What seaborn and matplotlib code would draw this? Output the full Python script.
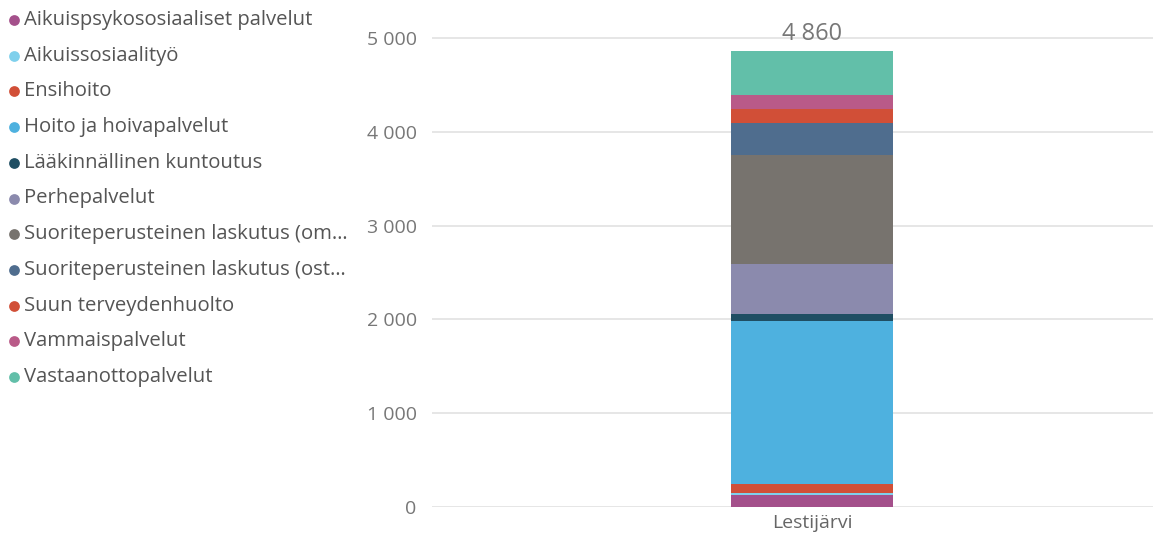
import matplotlib
matplotlib.use("Agg")
import matplotlib.pyplot as plt
import seaborn as sns
import pandas as pd

categories = ["Lestijärvi"]
series = [
    "Aikuispsykososiaaliset palvelut",
    "Aikuissosiaalityö",
    "Ensihoito",
    "Hoito ja hoivapalvelut",
    "Lääkinnällinen kuntoutus",
    "Perhepalvelut",
    "Suoriteperusteinen laskutus (om…",
    "Suoriteperusteinen laskutus (ost…",
    "Suun terveydenhuolto",
    "Vammaispalvelut",
    "Vastaanottopalvelut",
]
values = [125, 28, 96, 1735, 78, 527, 1160, 346, 143, 153, 469]
total_label = "4 860"
colors = ["#A4508B", "#7FD0EC", "#D14F37", "#4EB1DF", "#1F4E63", "#8B8AAD",
          "#77736E", "#4F6D8E", "#D14F37", "#B95A88", "#62BFA9"]
yticks = [0, 1000, 2000, 3000, 4000, 5000]
ytick_labels = ["0", "1 000", "2 000", "3 000", "4 000", "5 000"]

sns.set_theme(style="white")
plt.rcParams["font.family"] = ["Open Sans", "DejaVu Sans"]

W, H = 1153, 538
fig = plt.figure(figsize=(W / 100, H / 100), dpi=100)

# main axes in pixel coordinates
left, right, bottom, top = 432, 1153, 507, 29
ax = fig.add_axes([left / W, (H - bottom) / H, (right - left) / W, (bottom - top) / H])

base = 0
for s, v, c in zip(series, values, colors):
    sns.barplot(x=[categories[0]], y=[v], bottom=base, color=c, width=0.2247,
                ax=ax, linewidth=0, saturation=1)
    base += v

ax.set_xlim(-0.527, 0.473)
ymax = (bottom - top) / 469 * 5000
ax.set_ylim(0, ymax)
ax.set_yticks(yticks)
ax.set_yticklabels(ytick_labels)
ax.tick_params(axis="y", length=0, pad=11, labelsize=14, labelcolor="#777777")
ax.tick_params(axis="x", length=0, pad=5, labelsize=14, labelcolor="#666666")
ax.yaxis.grid(True, color="#E1E1E1", linewidth=1.2)
ax.set_axisbelow(True)
for sp in ax.spines.values():
    sp.set_visible(False)
ax.set_xlabel("")
ax.set_ylabel("")
ax.text(0, base + 50, total_label, ha="center", va="bottom", fontsize=17, color="#777777")

# legend overlay
lax = fig.add_axes([0, 0, 1, 1])
lax.set_xlim(0, W)
lax.set_ylim(H, 0)
lax.axis("off")
y0, dy = 20, 35.7
for i, (s, c) in enumerate(zip(series, colors)):
    y = y0 + i * dy
    lax.scatter([14], [y], s=60, color=c, linewidths=0)
    lax.text(24, y, s, va="center", ha="left", fontsize=14.6, color="#555555")

fig.savefig("out.png", dpi=100)
